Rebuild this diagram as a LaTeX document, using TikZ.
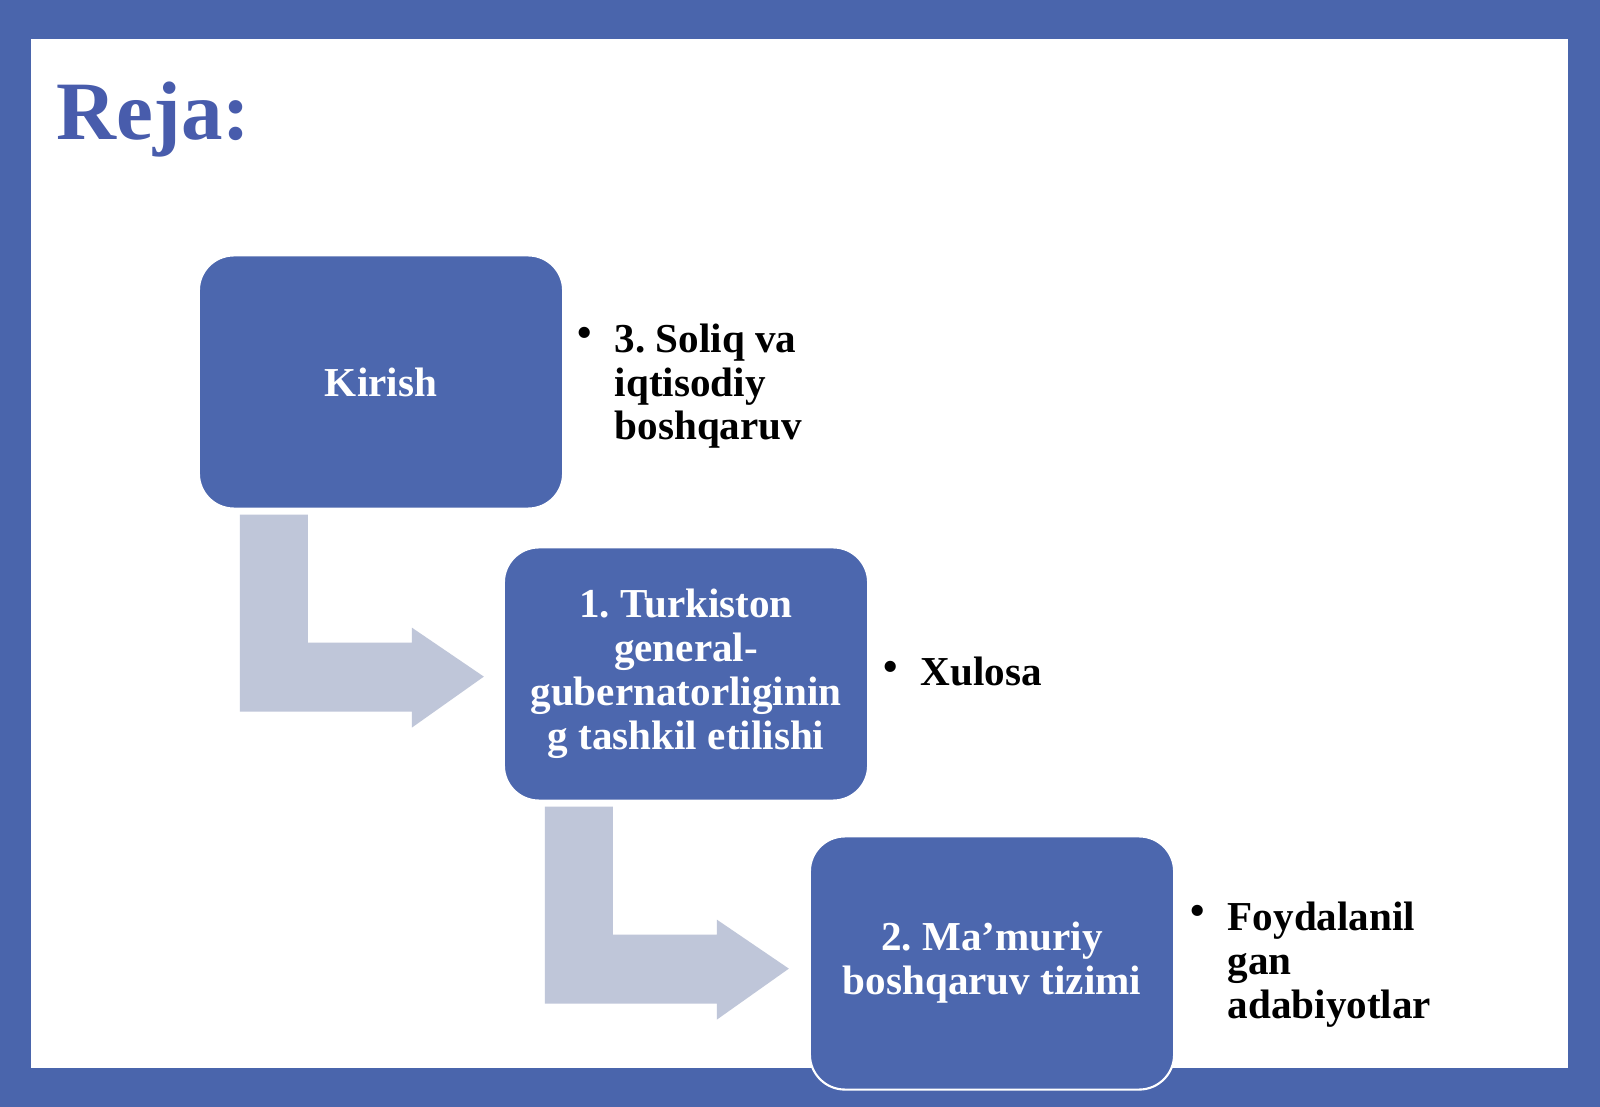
\documentclass[tikz,border=0pt]{standalone}
\usepackage{fontspec}
\setmainfont{Liberation Serif}
\usepackage{tikz}
\usetikzlibrary{calc}
\usetikzlibrary{positioning}
\frenchspacing

\definecolor{frameblue}{RGB}{74,101,172}
\definecolor{boxblue}{RGB}{76,103,174}
\definecolor{arrowgray}{RGB}{191,198,217}
\definecolor{titleblue}{RGB}{72,92,172}

\newcommand{\itembullet}{\llap{\raisebox{0.3ex}{\textbullet}\hspace{0.55em}}}

\begin{document}
\begin{tikzpicture}[x=0.01cm, y=-0.01cm,
	box/.style={rectangle, rounded corners=0.35cm, fill=boxblue, draw=white, line width=0.6pt, minimum width=3.64cm, minimum height=2.53cm, inner sep=0pt, align=center, text=white, font=\fontsize{11.7}{12.5}\selectfont\bfseries},
	item/.style={anchor=base west, inner sep=0pt, align=left, font=\fontsize{11.7}{12.5}\selectfont\bfseries},
	bendarrow/.style={fill=arrowgray}]
				\useasboundingbox (0,0) rectangle (1600,1107);
				\fill[frameblue] (0,0) rectangle (1600,1107);
				\fill[white] (31,39) rectangle (1568,1068);
				
				\node[anchor=base west, inner sep=0pt, text=titleblue, font=\fontsize{23.6}{25}\selectfont\bfseries] (T) at (56,140) {Reja:};
				
				\node[box] (A) at (381,382) {Kirish};
				\node[box] (B) at (686,674) {1. Turkiston\\general-\\gubernatorliginin\\g tashkil etilishi};
				\node[box] (C) at (992,963) {2. Ma’muriy\\boshqaruv tizimi};
				
				\foreach \s in {A, B}
					\fill[bendarrow] ($(\s.south west)+(42,5)$) -- ++(68,0) -- ++(0,128) -- ++(104,0) -- ++(0,-15) -- ++(72,49) -- ++(-72,51) -- ++(0,-16) -- ++(-172,0) -- cycle;
				
				% base anchor = baseline of the last line
				\node[item] (D) at (614,440) {\itembullet 3. Soliq va\\iqtisodiy\\boshqaruv};
				\node[item] (E) at (920,686) {\itembullet Xulosa};
				\node[item] (F) at (1227,1018) {\itembullet Foydalanil\\gan\\adabiyotlar};
			\end{tikzpicture}
\end{document}
